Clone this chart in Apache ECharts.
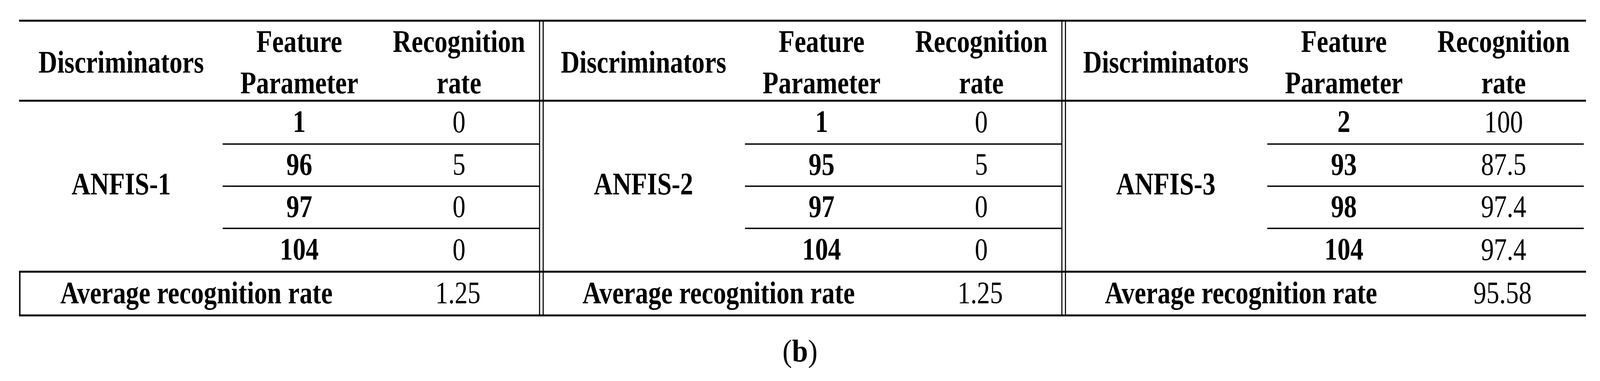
<!DOCTYPE html>
<html>
<head>
<meta charset="utf-8">
<script src="https://cdn.jsdelivr.net/npm/echarts@6/dist/echarts.min.js"></script>
<style>html,body{margin:0;padding:0;background:#fff;overflow:hidden}#main{width:100vw;height:100vh}</style>
</head>
<body>
<div id="main"></div>
<script>
// table content
var discriminators = ["ANFIS-1", "ANFIS-2", "ANFIS-3"];
var featureParams = [["1", "96", "97", "104"], ["1", "95", "97", "104"], ["2", "93", "98", "104"]];
var recogRates = [["0", "5", "0", "0"], ["0", "5", "0", "0"], ["100", "87.5", "97.4", "97.4"]];
var avgRates = ["1.25", "1.25", "95.58"];
var headers = ["Discriminators", "Feature\nParameter", "Recognition\nrate"];
var avgLabel = "Average recognition rate";
var caption = "b";

var FONT = "'Liberation Serif', 'DejaVu Serif', serif";
var FS = 80;
var left0 = 53, tableW = 1452;
var yTop = 53, yHead = 258, rowYs = [258, 369, 477, 585, 696], yBot = 808;

var els = [];
function line(x1, y1, x2, y2, w) {
    els.push({type: 'line', shape: {x1: x1, y1: y1, x2: x2, y2: y2}, style: {stroke: '#000', lineWidth: w}});
}
function text(x, y, s, bold, lh) {
    els.push({type: 'text', x: x, y: y, scaleX: 0.9, style: {text: s, font: (bold ? 'bold ' : '') + FS + 'px ' + FONT,
        fill: '#000', align: 'center', verticalAlign: 'middle', lineHeight: lh || FS}});
}

// horizontal rules across the full width
line(left0, yTop, left0 + 3 * tableW, yTop, 5);
line(left0, yHead, left0 + 3 * tableW, yHead, 5);
line(left0, rowYs[4], left0 + 3 * tableW, rowYs[4], 5);
line(left0, yBot, left0 + 3 * tableW, yBot, 5);
// left border of average row
line(left0 + 2, rowYs[4], left0 + 2, yBot, 4);
// double verticals between the tables
[1, 2].forEach(function(k){
    var x = left0 + k * tableW;
    line(x - 5, yTop, x - 5, yBot, 3);
    line(x + 5, yTop, x + 5, yBot, 3);
});

for (var t = 0; t < 3; t++) {
    var L = left0 + t * tableW;
    text(L + 284, 165, headers[0], true);
    text(L + 779, 165, headers[1], true, 106);
    text(L + 1223, 165, headers[2], true, 106);
    text(L + 284, (yHead + rowYs[4]) / 2, discriminators[t], true);
    for (var r = 0; r < 4; r++) {
        var cy = (rowYs[r] + rowYs[r + 1]) / 2 + 4;
        text(L + 779, cy, featureParams[t][r], true);
        text(L + 1223, cy, recogRates[t][r], false);
        if (r > 0) line(L + 566, rowYs[r], L + tableW - 6, rowYs[r], 3.5);
    }
    text(L + 493, 756, avgLabel, true);
    text(L + 1220, 756, avgRates[t], false);
}

els.push({type: 'text', x: 2224, y: 905, style: {
    text: '({b|' + caption + '})', font: FS + 'px ' + FONT, fill: '#000', align: 'center', verticalAlign: 'middle',
    rich: {b: {fontWeight: 'bold', fontSize: FS, fontFamily: FONT}}}});

var myChart = echarts.init(document.getElementById('main'));
var W = myChart.getWidth(), H = myChart.getHeight();
myChart.setOption({animation: false, graphic: {elements: [{
    type: 'group', scaleX: W / 4448, scaleY: H / 976, children: els
}]}});
</script>
</body>
</html>
